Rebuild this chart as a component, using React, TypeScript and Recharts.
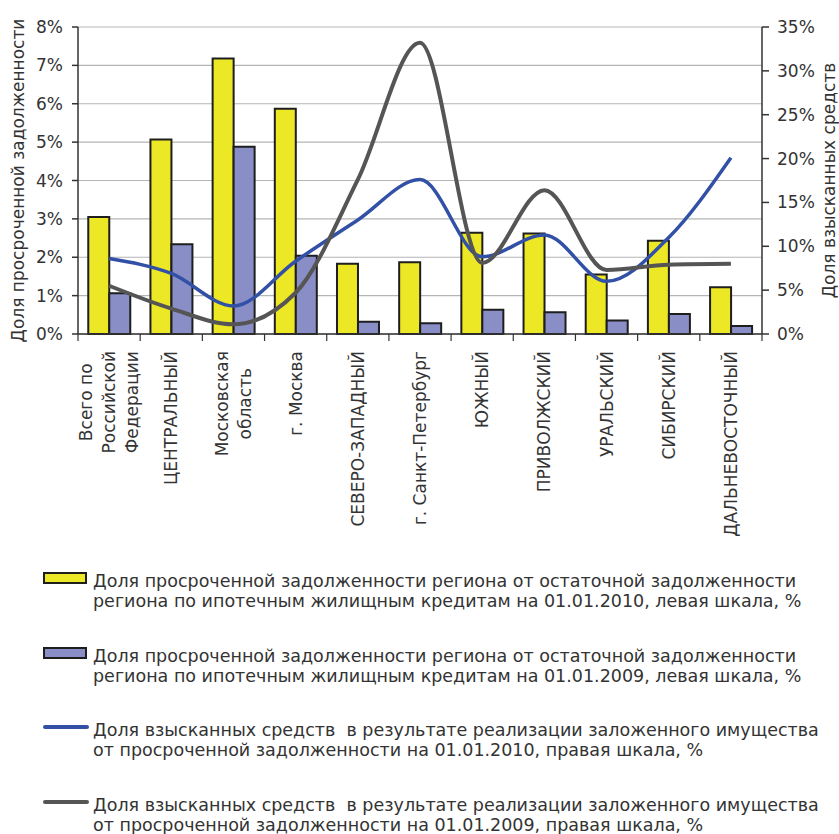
import { ComposedChart, Bar, Line, XAxis, YAxis, CartesianGrid, Legend } from 'recharts'

const REGIONS = [
	'Всего по\nРоссийской\nФедерации',
	'ЦЕНТРАЛЬНЫЙ',
	'Московская\nобласть',
	'г. Москва',
	'СЕВЕРО-ЗАПАДНЫЙ',
	'г. Санкт-Петербург',
	'ЮЖНЫЙ',
	'ПРИВОЛЖСКИЙ',
	'УРАЛЬСКИЙ',
	'СИБИРСКИЙ',
	'ДАЛЬНЕВОСТОЧНЫЙ',
]

// доля просроченной задолженности, левая шкала, %
const OVERDUE_2010 = [3.05, 5.07, 7.18, 5.87, 1.83, 1.87, 2.64, 2.62, 1.55, 2.43, 1.22]
const OVERDUE_2009 = [1.06, 2.34, 4.88, 2.04, 0.32, 0.28, 0.63, 0.57, 0.35, 0.52, 0.21]

// доля взысканных средств, правая шкала, %
const RECOVERED_2010 = [8.6, 6.9, 3.2, 8.3, 13.0, 17.6, 8.8, 11.3, 6.0, 11.0, 20.1]
const RECOVERED_2009 = [5.5, 2.9, 1.1, 4.7, 17.6, 33.2, 8.1, 16.4, 7.3, 7.9, 8.0]

const LEFT_TICKS = [0, 1, 2, 3, 4, 5, 6, 7, 8]
const RIGHT_TICKS = [0, 5, 10, 15, 20, 25, 30, 35]

const LABELS = {
	LEFT_AXIS: 'Доля просроченной задолженности',
	RIGHT_AXIS: 'Доля взысканных средств',
}

const COLORS = {
	OVERDUE_2010: '#ece826',
	OVERDUE_2009: '#8a8ec6',
	RECOVERED_2010: '#3150a6',
	RECOVERED_2009: '#555555',
	AXIS: '#333333',
	GRID: '#b5b5b5',
	TEXT: '#333333',
}

const LEGEND_ITEMS = [
	{
		kind: 'bar',
		color: COLORS.OVERDUE_2010,
		lines: [
			'Доля просроченной задолженности региона от остаточной задолженности',
			'региона по ипотечным жилищным кредитам на 01.01.2010, левая шкала, %',
		],
	},
	{
		kind: 'bar',
		color: COLORS.OVERDUE_2009,
		lines: [
			'Доля просроченной задолженности региона от остаточной задолженности',
			'региона по ипотечным жилищным кредитам на 01.01.2009, левая шкала, %',
		],
	},
	{
		kind: 'line',
		color: COLORS.RECOVERED_2010,
		lines: [
			'Доля взысканных средств  в результате реализации заложенного имущества',
			'от просроченной задолженности на 01.01.2010, правая шкала, %',
		],
	},
	{
		kind: 'line',
		color: COLORS.RECOVERED_2009,
		lines: [
			'Доля взысканных средств  в результате реализации заложенного имущества',
			'от просроченной задолженности на 01.01.2009, правая шкала, %',
		],
	},
]

const FONT = '"DejaVu Sans", sans-serif'
const FONT_SIZE = 17

const chartData = REGIONS.map((region, i) => ({
	region,
	overdue2010: OVERDUE_2010[i],
	overdue2009: OVERDUE_2009[i],
	recovered2010: RECOVERED_2010[i],
	recovered2009: RECOVERED_2009[i],
}))

let measureCtx: CanvasRenderingContext2D | null = null
const textWidth = (s: string) => {
	if (!measureCtx) {
		measureCtx = document.createElement('canvas').getContext('2d')
	}
	if (!measureCtx) return s.length * 10
	measureCtx.font = `${FONT_SIZE}px ${FONT}`
	return measureCtx.measureText(s).width
}

// подписи регионов: повёрнуты, многострочные центрируются по самой длинной строке
function RegionTick({ x, y, payload, index }: any) {
	const lines = String(payload.value).split('\n')
	const half = payload.offset || 31
	const longest = Math.max(...lines.map(textWidth))
	const cy = y + 17 + longest / 2
	return (
		<g>
			{index === 0 && <line x1={x - half} x2={x - half} y1={y} y2={y + 7} stroke={COLORS.AXIS} strokeWidth={1.2} />}
			<line x1={x + half} x2={x + half} y1={y} y2={y + 7} stroke={COLORS.AXIS} strokeWidth={1.2} />
			{lines.map((line, i) => {
				const lx = x + (i - (lines.length - 1) / 2) * 23
				return (
					<text
						key={i}
						x={lx}
						y={cy}
						transform={`rotate(-90 ${lx} ${cy})`}
						textAnchor="middle"
						dominantBaseline="central"
						fontFamily={FONT}
						fontSize={FONT_SIZE}
						fill={COLORS.TEXT}
					>
						{line}
					</text>
				)
			})}
		</g>
	)
}

const axisTitle = (text: string, dx: number) => (props: any) => {
	const { viewBox } = props
	const x = viewBox.x + dx
	const y = viewBox.y + viewBox.height / 2
	return (
		<text
			x={x}
			y={y}
			transform={`rotate(-90 ${x} ${y})`}
			textAnchor="middle"
			dominantBaseline="central"
			fontFamily={FONT}
			fontSize={17}
			fill={COLORS.TEXT}
		>
			{text}
		</text>
	)
}

const renderLegend = () => (
	<div style={{ fontFamily: FONT, fontSize: 17.5, color: COLORS.TEXT, lineHeight: '20px' }}>
		{LEGEND_ITEMS.map((item, i) => (
			<div key={i} style={{ display: 'flex', height: 74.5 }}>
				<div style={{ width: 50, flexShrink: 0, position: 'relative' }}>
					{item.kind === 'bar' ? (
						<div
							style={{
								position: 'absolute',
								left: 43,
								top: 1,
								width: 44,
								height: 12,
								boxSizing: 'border-box',
								background: item.color,
								border: '2px solid #1e1e1e',
							}}
						/>
					) : (
						<div
							style={{
								position: 'absolute',
								left: 43,
								top: 5,
								width: 46,
								height: 4,
								borderRadius: 2,
								background: item.color,
							}}
						/>
					)}
				</div>
				<div style={{ marginLeft: 43, whiteSpace: 'pre' }}>
					{item.lines.map((l, j) => (
						<div key={j}>{l}</div>
					))}
				</div>
			</div>
		))}
	</div>
)

export default function App() {
	return (
		<div style={{ width: 839, height: 834, position: 'relative' }}>
			<style>{'body{margin:0;overflow:hidden}'}</style>
			<ComposedChart
				width={839}
				height={834}
				data={chartData}
				margin={{ top: 27, right: 0, bottom: 0, left: 0 }}
				barCategoryGap="16.5%"
				barGap={0}
			>
				<CartesianGrid yAxisId="left" vertical={false} stroke={COLORS.GRID} strokeWidth={1.2} />
				<XAxis
					dataKey="region"
					height={500}
					interval={0}
					tickSize={0}
					tickMargin={0}
					tickLine={false}
					axisLine={{ stroke: COLORS.AXIS, strokeWidth: 1.5 }}
					tick={<RegionTick />}
				/>
				<YAxis
					yAxisId="left"
					width={78}
					domain={[0, 8]}
					ticks={LEFT_TICKS}
					tickFormatter={(v) => `${v}%`}
					tickSize={6}
					tickMargin={9}
					tick={{ fill: COLORS.TEXT, fontSize: 17, fontFamily: FONT }}
					tickLine={{ stroke: COLORS.AXIS, strokeWidth: 1.5 }}
					axisLine={{ stroke: COLORS.AXIS, strokeWidth: 1.5 }}
					label={axisTitle(LABELS.LEFT_AXIS, 18)}
				/>
				<YAxis
					yAxisId="right"
					orientation="right"
					width={77}
					domain={[0, 35]}
					ticks={RIGHT_TICKS}
					tickFormatter={(v) => `${v}%`}
					tickSize={7}
					tickMargin={8}
					tick={{ fill: COLORS.TEXT, fontSize: 17, fontFamily: FONT, textAnchor: 'start' }}
					tickLine={{ stroke: COLORS.AXIS, strokeWidth: 1.5 }}
					axisLine={{ stroke: COLORS.AXIS, strokeWidth: 1.5 }}
					label={axisTitle(LABELS.RIGHT_AXIS, 67)}
				/>
				<Bar
					yAxisId="left"
					dataKey="overdue2010"
					fill={COLORS.OVERDUE_2010}
					stroke="#1e1e1e"
					strokeWidth={2}
					isAnimationActive={false}
				/>
				<Bar
					yAxisId="left"
					dataKey="overdue2009"
					fill={COLORS.OVERDUE_2009}
					stroke="#1e1e1e"
					strokeWidth={2}
					isAnimationActive={false}
				/>
				<Line
					yAxisId="right"
					type="monotone"
					dataKey="recovered2010"
					stroke={COLORS.RECOVERED_2010}
					strokeWidth={3.5}
					dot={false}
					activeDot={false}
					isAnimationActive={false}
				/>
				<Line
					yAxisId="right"
					type="monotone"
					dataKey="recovered2009"
					stroke={COLORS.RECOVERED_2009}
					strokeWidth={4}
					dot={false}
					activeDot={false}
					isAnimationActive={false}
				/>
				<Legend
					content={renderLegend}
					layout="vertical"
					verticalAlign="middle"
					align="center"
					wrapperStyle={{ top: 571, left: 0, width: 839 }}
				/>
			</ComposedChart>
		</div>
	)
}
